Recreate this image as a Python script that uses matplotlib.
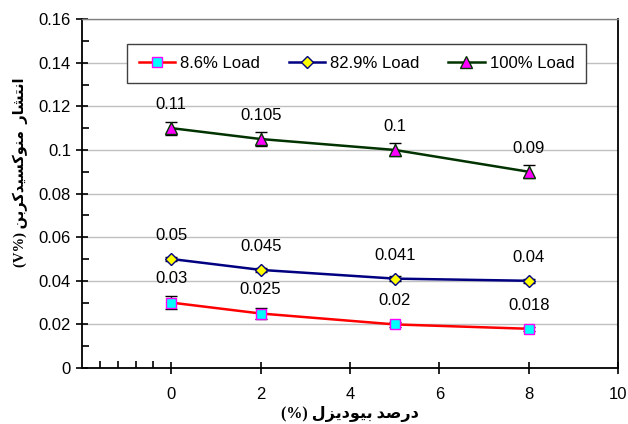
import matplotlib
matplotlib.use("Agg")
import matplotlib.pyplot as plt
from matplotlib.ticker import MultipleLocator, FixedLocator

plt.rcParams["font.family"] = ["Liberation Sans", "DejaVu Sans"]

# data
biodiesel = [0, 2, 5, 8]
load_86 = [0.03, 0.025, 0.02, 0.018]
load_829 = [0.05, 0.045, 0.041, 0.04]
load_100 = [0.11, 0.105, 0.1, 0.09]
err_86 = [0.003, 0.0025, 0.001, 0.0008]
err_829 = [0.001, 0.001, 0.001, 0.001]
err_100 = [0.003, 0.003, 0.003, 0.003]
labels_86 = ["0.03", "0.025", "0.02", "0.018"]
labels_829 = ["0.05", "0.045", "0.041", "0.04"]
labels_100 = ["0.11", "0.105", "0.1", "0.09"]
series_names = ["8.6% Load", "82.9% Load", "100% Load"]

# Persian labels written in visual order with presentation forms (no shaping in matplotlib)
w_entshar = "\uFEAD\uFE8E\uFEB8\uFE98\uFEE7\uFE8D"
w_monoxid = "\uFEE6\uFE91\uFEAE\uFEDB\uFEAA\uFEF4\uFEB4\uFEDB\uFEEE\uFEE8\uFEE3"
w_darsad = "\uFEAA\uFEBB\uFEAD\uFEA9"
w_biodiesel = "\uFEDD\uFEB0\uFEF3\uFEA9\uFEEE\uFEF4\uFE91"
ylabel = "(V%) " + w_monoxid + "  " + w_entshar
xlabel = "(%) " + w_biodiesel + " " + w_darsad

fig = plt.figure(figsize=(6.28, 4.24), dpi=100)
ax = fig.add_axes([0.1306, 0.132, 0.8535, 0.823])

styles = [
    (load_86, err_86, labels_86, "#FF0000", "s", "#00FFFF", "#FF00FF", 6.5),
    (load_829, err_829, labels_829, "#000080", "D", "#FFFF00", "#000080", 6.5),
    (load_100, err_100, labels_100, "#003300", "^", "#FF00FF", "#003300", 9),
]

for (vals, errs, labs, lc, mk, mfc, mec, ms), name in zip(styles, series_names):
    ax.errorbar(biodiesel, vals, yerr=errs, fmt="none", ecolor="black",
                elinewidth=1, capsize=4, capthick=1, zorder=3)
    ax.plot(biodiesel, vals, color=lc, lw=1.8, marker=mk, markersize=ms,
            markerfacecolor=mfc, markeredgecolor=mec, markeredgewidth=1,
            label=name, zorder=4)
    for x, v, t in zip(biodiesel, vals, labs):
        ax.annotate(t, (x, v), xytext=(0, 17), textcoords="offset points",
                    ha="center", va="center", fontsize=12)

ax.set_xlim(-2, 10)
ax.set_ylim(0, 0.16)
ax.xaxis.set_major_locator(FixedLocator([0, 2, 4, 6, 8, 10]))
ax.xaxis.set_minor_locator(FixedLocator([-1.6, -1.2, -0.8, -0.4]))
ax.yaxis.set_major_locator(MultipleLocator(0.02))
ax.yaxis.set_minor_locator(MultipleLocator(0.01))
ax.set_yticks([0, 0.02, 0.04, 0.06, 0.08, 0.1, 0.12, 0.14, 0.16])
ax.set_yticklabels(["0", "0.02", "0.04", "0.06", "0.08", "0.1", "0.12", "0.14", "0.16"])

ax.tick_params(which="major", direction="inout", length=9, width=1.2, labelsize=12)
ax.tick_params(which="minor", direction="in", length=5, width=1.2)
ax.tick_params(axis="x", which="major", pad=9)

ax.grid(axis="y", color="#C0C0C0", lw=1)
ax.set_axisbelow(True)
for s in ["left", "bottom", "right"]:
    ax.spines[s].set_color("black")
    ax.spines[s].set_linewidth(1.3)
ax.spines["top"].set_color("#808080")
ax.spines["top"].set_linewidth(1)

label_font = ["Liberation Serif", "DejaVu Sans"]
ax.set_xlabel(xlabel, fontsize=11.5, fontweight="bold", family=label_font, labelpad=3)
ax.set_ylabel(ylabel, fontsize=10.5, fontweight="bold", family=label_font,
              va="center")
ax.yaxis.set_label_coords(-0.116, 0.56)

leg = ax.legend(loc="center", bbox_to_anchor=(0.084, 0.814, 0.856, 0.117),
                mode="expand", ncol=3, fontsize=12, frameon=True, fancybox=False,
                framealpha=1, edgecolor="#404040", handlelength=2.2,
                handletextpad=0.3, borderpad=0.7, borderaxespad=0)
leg.get_frame().set_linewidth(1)

fig.savefig("out.png", dpi=100)
